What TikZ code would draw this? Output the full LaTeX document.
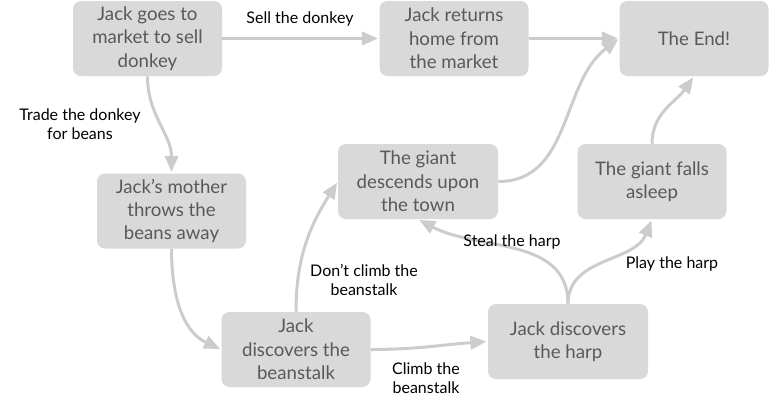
\documentclass[tikz,border=0pt]{standalone}
\usepackage{fontspec}
\setmainfont{Lato}
\usetikzlibrary{arrows.meta}
\definecolor{card}{HTML}{D9D9D9}
\definecolor{cardtext}{HTML}{595959}
\definecolor{wire}{HTML}{CCCCCC}

\begin{document}
\begin{tikzpicture}[x=.75pt,y=-.75pt,font=\fontsize{14}{17.5}\selectfont,
 scene/.style={fill=card,text=cardtext,rounded corners=6pt,align=center,minimum width=111.75pt,minimum height=56.25pt,inner sep=2pt},
 widescene/.style={scene,minimum width=120pt},
 flow/.style={-{Triangle[length=12pt,width=10pt]},line width=2.25pt,draw=wire,shorten >=1pt},
 choice/.style={align=center,font=\fontsize{12}{14}\selectfont}]
\path[use as bounding box] (0,0) rectangle (781,401);
% Story cards, top row then the lower loop.
\node[scene] (market) at (147.5,38.5) {Jack goes to\\market to sell\\donkey};
\node[scene] (home) at (454,38.5) {Jack returns\\home from\\the market};
\node[scene] (theend) at (694,38.5) {The End!};
\node[scene] (mother) at (171.5,211) {Jack’s mother\\throws the\\beans away};
\node[scene] (beanstalk) at (296,349.5) {Jack\\discovers the\\beanstalk};
\node[widescene] (descend) at (418,181.5) {The giant\\descends upon\\the town};
\node[scene] (asleep) at (652,181.5) {The giant falls\\asleep};
\node[widescene] (harp) at (568,341.5) {Jack discovers\\the harp};

\draw[flow] (market.east)--(home.west);
\draw[flow] (home.east)--(theend.west);
\draw[flow] (market.south) to[out=-90,in=90] (mother.north);
\draw[flow] (mother.south) to[out=-90,in=155] (beanstalk.west);
\draw[flow] (beanstalk.north) to[out=90,in=238] (descend.west);
\draw[flow] (beanstalk.east) to[out=0,in=184] (harp.west);
\draw[flow] (harp.north) to[out=90,in=-28] (descend.south);
\draw[flow] (harp.north) to[out=90,in=-112] (asleep.south);
\draw[flow] (descend.east) to[out=0,in=217] (theend.west);
\draw[flow] (asleep.north) to[out=90,in=235] (theend.south);

% Choice labels beside their connectors.
\node[choice] (sell) at (300,19) {Sell the donkey};
\node[choice] (trade) at (80,124) {Trade the donkey\\for beans};
\node[choice] (stay) at (364,280) {Don’t climb the\\beanstalk};
\node[choice] (climb) at (426,378) {Climb the\\beanstalk};
\node[choice] (steal) at (512,242) {Steal the harp};
\node[choice] (play) at (672,264) {Play the harp};
\end{tikzpicture}
\end{document}
